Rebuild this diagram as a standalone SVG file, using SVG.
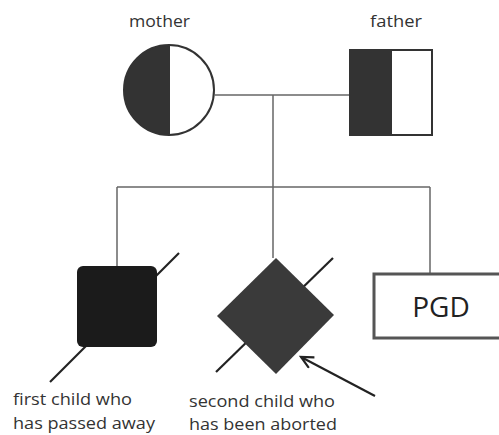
<svg xmlns="http://www.w3.org/2000/svg" width="499" height="435" viewBox="0 0 499 435">
<defs>
<style>
.ln{stroke:#666;stroke-width:1.5;fill:none}
.sl{stroke:#222;stroke-width:2.2;fill:none}
.lb{font-family:"Open Sans","Liberation Sans",sans-serif;font-size:17px;fill:#333}
</style>
<marker id="ah" markerWidth="16" markerHeight="16" refX="13" refY="7" orient="auto" markerUnits="userSpaceOnUse">
<path d="M1,1 L13,7 L1,13" fill="none" stroke="#222" stroke-width="2.2"/>
</marker>
</defs>
<rect width="499" height="435" fill="#fff"/>
<g id="connectors">
<line class="ln" x1="215" y1="95" x2="350" y2="95"/>
<line class="ln" x1="273" y1="95" x2="273" y2="187"/>
<line class="ln" x1="117" y1="187" x2="430" y2="187"/>
<line class="ln" x1="117" y1="187" x2="117" y2="267"/>
<line class="ln" x1="273" y1="187" x2="273" y2="258"/>
<line class="ln" x1="430" y1="187" x2="430" y2="273"/>
<line class="sl" x1="375" y1="396" x2="301" y2="357" marker-end="url(#ah)"/>
</g>
<g id="mother">
<text class="lb" x="129" y="27" textLength="61" lengthAdjust="spacingAndGlyphs">mother</text>
<path d="M169,45 A45,45 0 0 0 169,135 Z" fill="#333"/>
<circle cx="169" cy="90" r="45" fill="none" stroke="#333" stroke-width="2"/>
<line x1="169" y1="45" x2="169" y2="135" stroke="#333" stroke-width="2"/>
</g>
<g id="father">
<text class="lb" x="370" y="27" textLength="52" lengthAdjust="spacingAndGlyphs">father</text>
<rect x="350" y="50" width="42" height="85" fill="#333"/>
<rect x="350" y="50" width="82" height="85" fill="none" stroke="#333" stroke-width="2"/>
</g>
<g id="child1">
<line class="sl" x1="50" y1="382" x2="179" y2="253"/>
<rect x="77" y="266" width="80" height="81" rx="6" fill="#1b1b1b"/>
<text class="lb" x="13" y="405" textLength="119" lengthAdjust="spacingAndGlyphs">first child who</text>
<text class="lb" x="13" y="429" textLength="142" lengthAdjust="spacingAndGlyphs">has passed away</text>
</g>
<g id="child2">
<line class="sl" x1="216" y1="372" x2="333" y2="258"/>
<polygon points="276,258 334,315 276,374 217,316" fill="#3a3a3a"/>
<text class="lb" x="189" y="407" textLength="146" lengthAdjust="spacingAndGlyphs">second child who</text>
<text class="lb" x="189" y="430" textLength="148" lengthAdjust="spacingAndGlyphs">has been aborted</text>
</g>
<g id="pgd">
<rect x="374" y="274" width="140" height="64" fill="#fff" stroke="#555" stroke-width="3"/>
<text x="441" y="317" text-anchor="middle" font-family="'Open Sans','Liberation Sans',sans-serif" font-size="28" fill="#222">PGD</text>
</g>
</svg>
